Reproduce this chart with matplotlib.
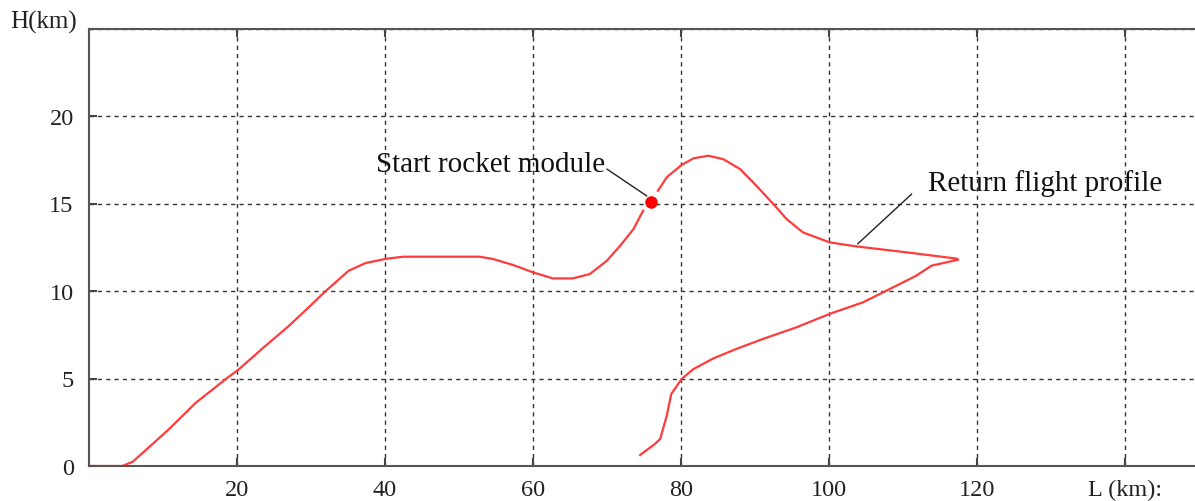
import matplotlib
matplotlib.use("Agg")
import matplotlib.pyplot as plt

# Flight profile data (L in km, H in km)
L_out = [0, 4.5, 5.9, 8.1, 10.8, 14.4, 18.5, 20.3, 23.4, 27.0, 29.7, 32.0, 35.1, 37.4, 40.3,
         42.5, 52.8, 54.6, 57.3, 60.0, 62.7, 65.4, 67.7, 70.0, 71.8, 73.6, 74.9]
H_out = [0, 0, 0.24, 1.07, 2.1, 3.6, 4.97, 5.54, 6.7, 8.0, 9.07, 10.0, 11.16, 11.6, 11.85,
         11.96, 11.96, 11.83, 11.49, 11.07, 10.72, 10.72, 10.97, 11.73, 12.59, 13.54, 14.59]

L_ret = [76.9, 78.1, 80.1, 81.7, 83.7, 85.7, 88.0, 90.2, 92.5, 94.3, 96.5, 100.1, 103.7, 110.5, 117.3,
         117.5, 113.9, 111.8, 107.8, 104.6, 100.1, 95.6, 91.1, 87.5, 84.4, 81.7, 80.1, 78.7, 78.1,
         77.2, 76.5, 74.5]
H_ret = [15.73, 16.5, 17.2, 17.58, 17.73, 17.54, 16.97, 16.02, 14.97, 14.11, 13.35, 12.78, 12.55, 12.21, 11.85,
         11.79, 11.45, 10.87, 10.02, 9.35, 8.69, 7.92, 7.26, 6.69, 6.15, 5.54, 4.97, 4.11, 2.88,
         1.54, 1.26, 0.63]

start_point = (75.9, 15.07)

x_ticks = [20, 40, 60, 80, 100, 120, 140]
x_labels = ["20", "40", "60", "80", "100", "120", "L (km):"]
y_ticks = [0, 5, 10, 15, 20, 25]
y_labels = ["0", "5", "10", "15", "20", ""]

plt.rcParams['font.family'] = ['Liberation Serif', 'DejaVu Serif']

fig = plt.figure(figsize=(11.95, 5.02), dpi=100)
ax = fig.add_axes([89/1195, 35/502, 1 - 89/1195, (467 - 29.5)/502])

red = '#ff3b3b'
ax.plot(L_out, H_out, color=red, lw=1.6)
ax.plot(L_ret, H_ret, color=red, lw=1.6)
ax.plot([start_point[0]], [start_point[1]], 'o', color='#ff0000', ms=8, mec='#ff0000')

ax.set_xlim(0, 149.5)
ax.set_ylim(0, 25)
ax.set_xticks(x_ticks)
ax.set_xticklabels(x_labels)
ax.set_yticks(y_ticks)
ax.set_yticklabels(y_labels)

ax.grid(True, color='#333333', linestyle=(0, (3, 3)), linewidth=1.0)
for s in ['left', 'top', 'bottom']:
    ax.spines[s].set_color('#555555')
    ax.spines[s].set_linewidth(1.5)
ax.spines['right'].set_visible(False)

ax.tick_params(axis='x', direction='in', length=6, width=1.5, color='#444444',
               top=True, labelsize=17.5, pad=9.5, labelcolor='#222222')
ax.tick_params(axis='y', direction='in', length=6, width=1.5, color='#444444',
               labelsize=17.5, pad=11, labelcolor='#222222')

fig.text(10/1195, 1 - 22/502, "H(km)", fontsize=18, color='#222222', va='center', ha='left')

ax.text(69.7, 17.26, "Start rocket module", fontsize=21, ha='right', va='center', color='#111111')
ax.annotate("", xy=(75.4, 15.43), xytext=(70.0, 16.97),
            arrowprops=dict(arrowstyle='-', color='#222222', lw=1.0, shrinkA=0, shrinkB=0))
ax.text(113.4, 16.2, "Return flight profile", fontsize=21, ha='left', va='center', color='#111111')
ax.annotate("", xy=(103.9, 12.69), xytext=(111.2, 15.54),
            arrowprops=dict(arrowstyle='-', color='#222222', lw=1.0, shrinkA=0, shrinkB=0))

fig.savefig("out.png", dpi=100)
